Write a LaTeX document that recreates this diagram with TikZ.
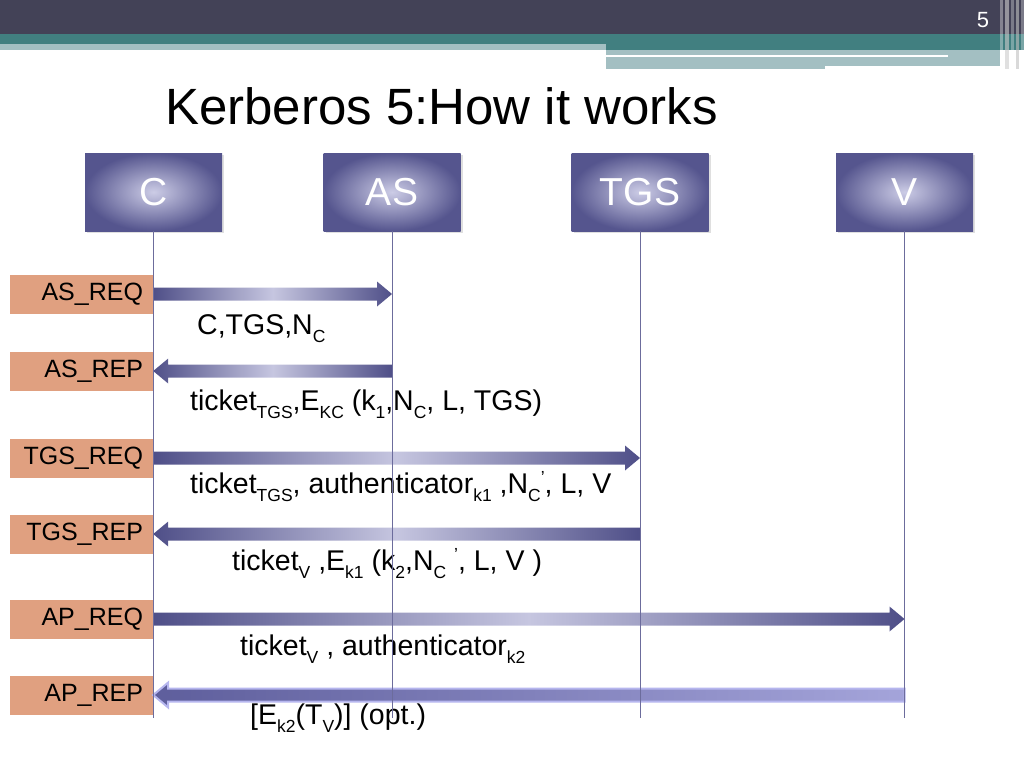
\documentclass[tikz,border=0pt]{standalone}
\usepackage{fontspec}
\setmainfont{Liberation Sans}
\usetikzlibrary{calc,shadows}
\definecolor{hdrdark}{HTML}{434257}
\definecolor{hdrteal}{HTML}{417F80}
\definecolor{hdrlight}{HTML}{A3BFC2}
\definecolor{boxin}{HTML}{CCCCE6}
\definecolor{boxout}{HTML}{55558E}
\definecolor{msgdark}{HTML}{4F4F88}
\definecolor{msglight}{HTML}{C6C6E0}
\definecolor{repdark}{HTML}{5E5E9C}
\definecolor{replight}{HTML}{A4A4DA}
\definecolor{repline}{HTML}{B6B6EE}
\definecolor{tagfill}{HTML}{E0A080}
\definecolor{lifecol}{HTML}{6C6C9C}
\tikzset{party/.style={rectangle, minimum width=137pt, minimum height=78pt,
  inner color=boxin, outer color=boxout, text=white,
  font=\fontsize{39}{39}\selectfont,
  drop shadow={opacity=0.25, shadow xshift=2pt, shadow yshift=-2pt}},
  tag/.style={rectangle, fill=tagfill, minimum width=143pt,
  minimum height=39pt, inner xsep=10pt, text width=123pt, align=right,
  font=\fontsize{25}{25}\selectfont},
  msgtxt/.style={anchor=base west, inner sep=0pt,
  font=\fontsize{28.5}{28.5}\selectfont},
  msgbody/.style={left color=msgdark, right color=msgdark,
  middle color=msglight},
  repbody/.style={left color=repdark, right color=replight,
  draw=repline, line width=2pt},
  lifeline/.style={draw=lifecol, line width=0.8pt}}
\newcommand\sub[1]{\raisebox{-0.3em}{\fontsize{17.5}{17.5}\selectfont #1}}
\newcommand\upr[1]{\raisebox{0.35em}{\fontsize{17.5}{17.5}\selectfont #1}}
% fat arrow from #2 to #3
\newcommand\msg[3][msgbody]{%
  \path ($(#3)!15pt!(#2)$) coordinate (hb);
  \shade[#1] ($(#2)!6.5pt!90:(#3)$) -- ($(hb)!6.5pt!90:(#3)$)
    -- ($(hb)!12.5pt!90:(#3)$) -- (#3) -- ($(hb)!12.5pt!-90:(#3)$)
    -- ($(hb)!6.5pt!-90:(#3)$) -- ($(#2)!6.5pt!-90:(#3)$) -- cycle;}

\begin{document}
\begin{tikzpicture}[x=1pt, y=-1pt]
  \useasboundingbox (0,0) rectangle (1024,768);
  % Header bands
  \fill[hdrdark] (0,0) rectangle (1024,34);
  \fill[hdrteal] (0,34) rectangle (1024,44);
  \fill[hdrteal] (606,44) rectangle (1024,50);
  \fill[hdrlight] (0,44) rectangle (606,50);
  \fill[hdrlight] (606,50) rectangle (1000,66);
  \fill[hdrlight] (606,66) rectangle (825,69);
  \fill[white] (606,55.5) rectangle (948,57.5);
  \fill[white, opacity=0.35] (1000,0) rectangle (1003,69);
  \fill[gray!40, opacity=0.6] (1005,0) rectangle (1009,69);
  \fill[white, opacity=0.3] (1011,0) rectangle (1014,69);
  \fill[gray!50, opacity=0.6] (1016,0) rectangle (1019,69);
  \fill[white, opacity=0.3] (1021,0) rectangle (1024,69);
  \node[text=white, font=\fontsize{22}{22}\selectfont] (pgnum) at (983,20) {5};
  \node[anchor=base west, inner sep=0pt, font=\fontsize{51}{51}\selectfont]
    (title) at (165,124) {Kerberos 5:How it works};
  % Principals
  \node[party] (C)   at (153.5,192) {C};
  \node[party] (AS)  at (392,192)   {AS};
  \node[party] (TGS) at (640,192)   {TGS};
  \node[party] (V)   at (904.5,192) {V};
  % Message tags
  \node[tag] (asreq)  at (81.5,294)   {AS\_REQ};
  \node[tag] (asrep)  at (81.5,371)   {AS\_REP};
  \node[tag] (tgsreq) at (81.5,458)   {TGS\_REQ};
  \node[tag] (tgsrep) at (81.5,534)   {TGS\_REP};
  \node[tag] (apreq)  at (81.5,619)   {AP\_REQ};
  \node[tag] (aprep)  at (81.5,695)   {AP\_REP};
  % Messages
  \msg{asreq.east}{AS |- asreq}
  \msg{AS |- asrep}{asrep.east}
  \msg{tgsreq.east}{TGS |- tgsreq}
  \msg{TGS |- tgsrep}{tgsrep.east}
  \msg{apreq.east}{V |- apreq}
  \msg[repbody]{V |- aprep}{aprep.east}
  % Message contents
  \node[msgtxt] (m1) at (197,334) {C,TGS,N\sub{C}};
  \node[msgtxt] (m2) at (190,410)
    {ticket\sub{TGS},E\sub{KC} (k\sub{1},N\sub{C}, L, TGS)};
  \node[msgtxt] (m3) at (190,493)
    {ticket\sub{TGS}, authenticator\sub{k1} ,N\sub{C}\upr{’}, L, V};
  \node[msgtxt] (m4) at (232,570)
    {ticket\sub{V} ,E\sub{k1} (k\sub{2},N\sub{C} \upr{’}, L, V )};
  \node[msgtxt] (m5) at (240,655) {ticket\sub{V} , authenticator\sub{k2}};
  \node[msgtxt] (m6) at (250,724) {[E\sub{k2}(T\sub{V})] (opt.)};
  % Lifelines
  \coordinate (Cend)   at (C.south |- 0,718);
  \coordinate (ASend)  at (AS.south |- 0,718);
  \coordinate (TGSend) at (TGS.south |- 0,718);
  \coordinate (Vend)   at (V.south |- 0,718);
  \draw[lifeline] (C.south) -- (Cend);
  \draw[lifeline] (AS.south) -- (ASend);
  \draw[lifeline] (TGS.south) -- (TGSend);
  \draw[lifeline] (V.south) -- (Vend);
\end{tikzpicture}
\end{document}
